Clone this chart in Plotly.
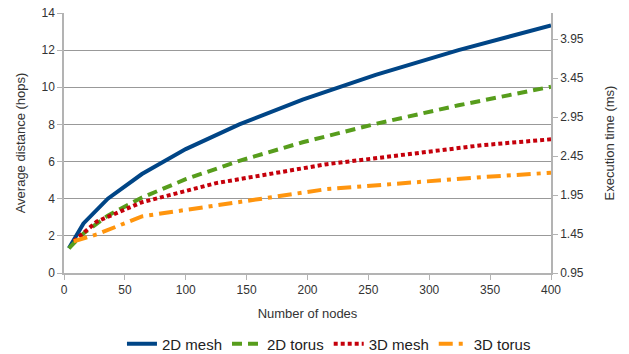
import plotly.graph_objects as go

nodes_2d = [4, 16, 36, 64, 100, 144, 196, 256, 324, 400]
mesh_2d = [1.33, 2.67, 4.0, 5.33, 6.67, 8.0, 9.33, 10.67, 12.0, 13.33]
torus_2d = [1.33, 2.13, 3.09, 4.06, 5.05, 6.04, 7.04, 8.03, 9.03, 10.03]

nodes_3d = [8, 27, 64, 125, 216, 343, 400]
mesh_3d = [1.71, 2.77, 3.81, 4.84, 5.86, 6.88, 7.2]
torus_3d = [1.71, 2.08, 3.05, 3.63, 4.52, 5.16, 5.4]

names = ["2D mesh", "2D torus", "3D mesh", "3D torus"]
colors = ["#004586", "#579d1c", "#c5000b", "#ff950e"]
dashes = ["solid", "10px,6px", "4px,3px", "14px,6px,4px,6px"]

fig = go.Figure()
series = [(nodes_2d, mesh_2d), (nodes_2d, torus_2d), (nodes_3d, mesh_3d), (nodes_3d, torus_3d)]
for (xs, ys), n, c, d in zip(series, names, colors, dashes):
    fig.add_trace(go.Scatter(x=xs, y=ys, name=n, mode="lines",
                             line=dict(color=c, width=4, dash=d)))

# invisible trace to show secondary axis
fig.add_trace(go.Scatter(x=[0], y=[1.0], yaxis="y2", mode="markers",
                         marker=dict(opacity=0), showlegend=False, hoverinfo="skip"))

font = dict(family="Liberation Sans, Arial, sans-serif", size=13, color="#333333")
fig.update_layout(
    width=629, height=354,
    margin=dict(l=64, r=78, t=13, b=81, autoexpand=False),
    paper_bgcolor="white", plot_bgcolor="white",
    font=font,
    showlegend=True,
    legend=dict(orientation="h", x=0.523, xanchor="center", xref="container",
                y=0.028, yanchor="middle", yref="container",
                font=dict(size=15, color="#222222"), itemwidth=30, tracegroupgap=0),
    xaxis=dict(range=[0, 400], dtick=50, tick0=0, showgrid=False, automargin=False,
               showline=True, linecolor="#b3b3b3", linewidth=1.5,
               ticks="outside", ticklen=5, tickcolor="#b3b3b3",
               title=dict(text="Number of nodes", font=dict(size=13), standoff=13),
               zeroline=False, tickfont=dict(size=12)),
    yaxis=dict(range=[0, 14], dtick=2, showgrid=True, gridcolor="#999999", gridwidth=1,
               automargin=False,
               showline=True, linecolor="#b3b3b3", linewidth=1.5,
               ticks="outside", ticklen=5, tickcolor="#b3b3b3",
               title=dict(text="Average distance (hops)", font=dict(size=13), standoff=13),
               zeroline=False, tickfont=dict(size=12)),
    yaxis2=dict(range=[0.95, 0.95 + 260 / 78], tick0=0.95, dtick=0.5, tickformat=".2f",
                overlaying="y", side="right", showgrid=False, automargin=False,
                showline=True, linecolor="#b3b3b3", linewidth=1.5,
                ticks="outside", ticklen=5, tickcolor="#b3b3b3",
                title=dict(text="Execution time (ms)", font=dict(size=13), standoff=22),
                zeroline=False, tickfont=dict(size=12)),
)

fig.write_html("out.html", config={"displayModeBar": False},
               post_script="document.body.style.margin='0';")
